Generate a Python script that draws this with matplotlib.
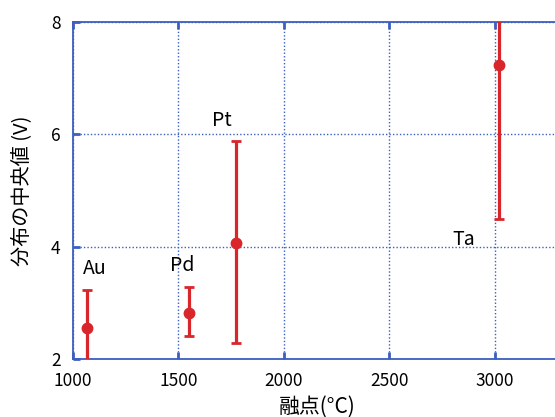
import matplotlib
matplotlib.use("Agg")
import matplotlib.pyplot as plt

plt.rcParams['font.family'] = ['Noto Sans CJK JP', 'DejaVu Sans']

# données
elements = ['Au', 'Pd', 'Pt', 'Ta']
point_fusion = [1065, 1551, 1771, 3019]
mediane = [2.56, 2.82, 4.06, 7.23]
haut = [3.22, 3.29, 5.88, 8.05]
bas = [1.95, 2.41, 2.28, 4.49]
label_x = [1105, 1516, 1705, 2853]
label_y = [3.62, 3.67, 6.25, 4.12]
ticks_x = [1000, 1500, 2000, 2500, 3000]
ticks_y = [2, 4, 6, 8]

bleu = '#3c5fc0'
rouge = '#d9262b'

fig = plt.figure(figsize=(5.55, 4.17), dpi=100)
# l'axe déborde à droite, comme sur l'original
ax = fig.add_axes([73 / 555, 1 - 359 / 417, 527 / 555, 337 / 417])

err_bas = [m - b for m, b in zip(mediane, bas)]
err_haut = [h - m for h, m in zip(haut, mediane)]
ax.errorbar(point_fusion, mediane, yerr=[err_bas, err_haut], fmt='o', color=rouge,
            ms=7.5, elinewidth=2.3, capsize=3.5, capthick=2, zorder=5)

for nom, x, y in zip(elements, label_x, label_y):
    ax.text(x, y, nom, fontsize=14, ha='center', va='center', color='black')

ax.set_xlim(1000, 3500)
ax.set_ylim(2, 8)
ax.set_xticks(ticks_x)
ax.set_yticks(ticks_y)
ax.grid(True, color=bleu, linestyle=(0, (1, 1.5)), linewidth=1)
for s in ax.spines.values():
    s.set_color(bleu)
    s.set_linewidth(1.3)
ax.tick_params(direction='in', length=5, width=2, color=bleu, top=True, right=True,
               labelsize=12.5, pad=9)

ax.set_xlabel('融点(°C)', fontsize=15)
ax.xaxis.set_label_coords((317 - 73) / 527, -0.11)
ax.set_ylabel('分布の中央値 (V)', fontsize=14.5)
ax.yaxis.set_label_coords(-0.078, 0.5)

fig.savefig('out.png', dpi=100)
